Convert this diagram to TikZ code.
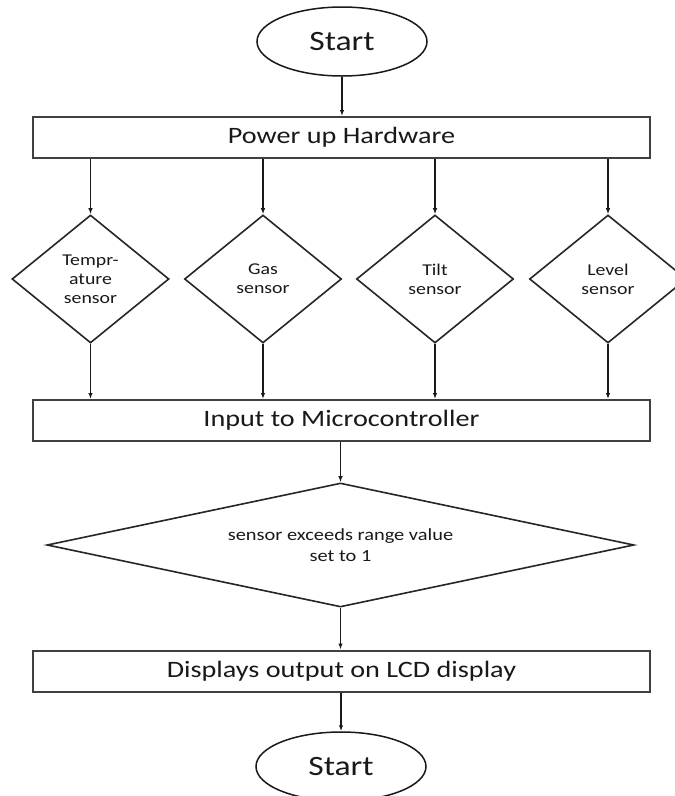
\documentclass[tikz,border=0pt]{standalone}
\usepackage{fontspec}
\setmainfont{Carlito}[FakeStretch=1.2]
\usetikzlibrary{shapes.geometric,arrows.meta}
\begin{document}
\begin{tikzpicture}[x=1pt,y=-1pt,
  every node/.style={inner sep=0pt, text=black!90},
  terminal/.style={ellipse, draw=black!90, line width=1.5pt,
    minimum width=170pt, minimum height=69pt,
    font=\fontsize{28}{30}\selectfont},
  procbox/.style={rectangle, draw=black!75, line width=2pt,
    minimum width=617pt, minimum height=41pt,
    font=\fontsize{23.5}{26}\selectfont},
  sensor/.style={diamond, aspect=1.23, draw=black!85, line width=1.6pt,
    minimum width=157pt, minimum height=128pt, align=center,
    font=\fontsize{16.5}{19}\selectfont},
  decision/.style={diamond, aspect=4.7, draw=black!85, line width=1.6pt,
    minimum width=587pt, minimum height=124pt, align=center,
    font=\fontsize{17}{21}\selectfont},
  flow/.style={-{Latex[length=6pt,width=4.5pt]}, line width=1.4pt, draw=black!90}]

\useasboundingbox (0,0) rectangle (675,796);
\fill[white] (0,0) rectangle (675,796);
\clip (0,0) rectangle (675,796);

% terminals and process boxes
\node[terminal] (start) at (342,41.5) {Start};
\node[procbox] (power) at (341.5,137.5) {Power up Hardware};

% sensor decisions
\node[sensor] (temp)  at (90.5,279) {Tempr-\\ature\\sensor};
\node[sensor] (gas)   at (263,279)  {Gas\\sensor};
\node[sensor] (tilt)  at (435,279)  {Tilt\\sensor};
\node[sensor] (level) at (608,279)  {Level\\sensor};

\node[procbox] (input) at (341.5,420.5) {Input to Microcontroller};
\node[decision] (check) at (340.5,545) {sensor exceeds range value\\set to 1};
\node[procbox] (disp) at (341.5,671) {Displays output on LCD display};
\node[terminal] (stop) at (341,766.5) {Start};

% connectors
\draw[flow] (start.south) -- (start.south |- power.north);
\foreach \s in {temp,gas,tilt,level}{
  \draw[flow] (\s.north |- power.south) -- (\s.north);
  \draw[flow] (\s.south) -- (\s.south |- input.north);
}
\draw[flow] (check.north |- input.south) -- (check.north);
\draw[flow] (check.south) -- (check.south |- disp.north);
\draw[flow] (stop.north |- disp.south) -- (stop.north);
\end{tikzpicture}
\end{document}
